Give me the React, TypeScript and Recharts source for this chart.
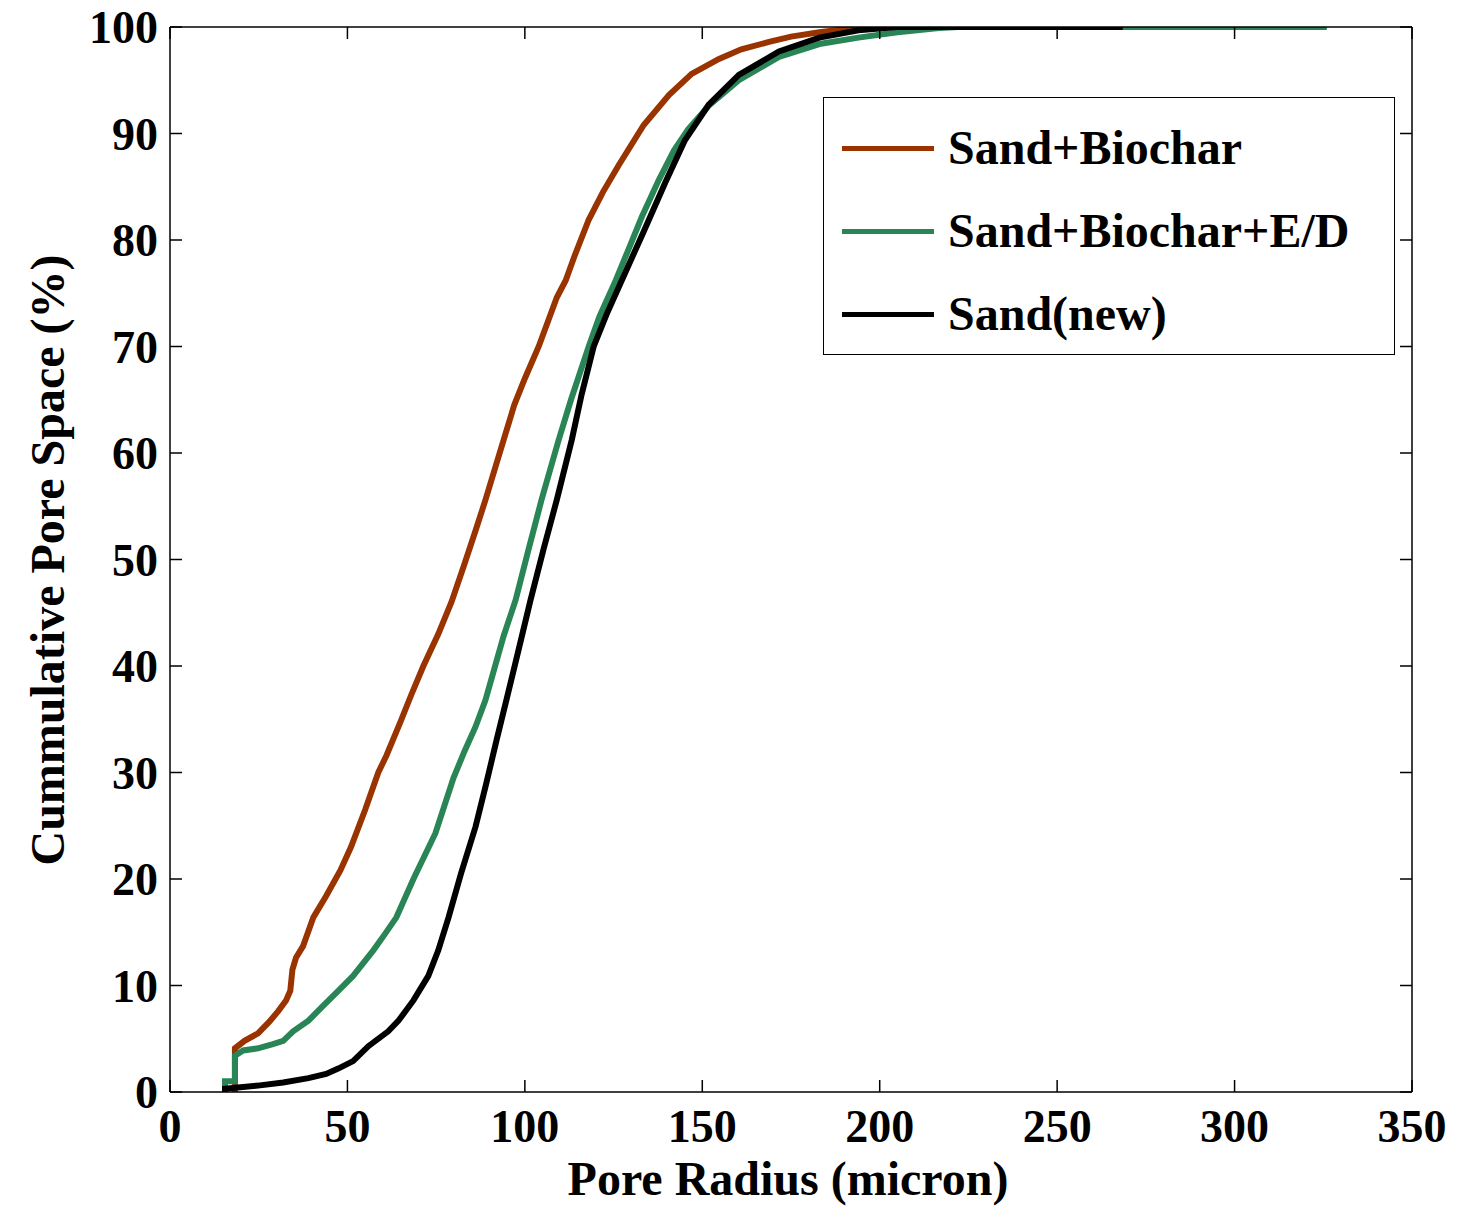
import React from 'react';
import { LineChart, Line, XAxis, YAxis } from 'recharts';

const xTicks = [0, 50, 100, 150, 200, 250, 300, 350];
const yTicks = [0, 10, 20, 30, 40, 50, 60, 70, 80, 90, 100];

// Sand+Biochar
const biocharRadius = [18.3, 18.3, 21, 24.8, 28, 30.5, 32.7, 33.9, 34.5, 35.5, 37.5, 40.4, 44, 48, 51, 55, 58.7, 61, 65, 68, 71.4, 75.6, 79.3, 82.7, 86, 88.9, 94, 97, 100, 103.9, 109, 111.5, 114, 118, 122, 126.4, 133.5, 140.6, 147, 154.7, 161, 168.8, 175, 183, 190, 195];
const biocharCum = [0, 4.1, 4.8, 5.5, 6.6, 7.6, 8.6, 9.5, 11.5, 12.6, 13.7, 16.4, 18.4, 20.8, 23, 26.5, 30, 31.6, 34.8, 37.3, 40, 43, 46, 49.3, 52.6, 55.6, 61.2, 64.5, 67, 70, 74.6, 76.2, 78.5, 81.9, 84.5, 87, 90.8, 93.6, 95.6, 97, 97.9, 98.6, 99.1, 99.5, 99.8, 100];

// Sand+Biochar+E/D
const edRadius = [15.5, 15.5, 18.3, 18.3, 20.6, 24.8, 29, 31.9, 34.7, 39, 43.2, 47.4, 51.6, 57.3, 60.5, 63.8, 68.6, 74.8, 79.9, 83, 86.1, 88.9, 94, 97.4, 101, 104.7, 109.5, 113, 118, 121, 125.6, 129.3, 133, 137.7, 142, 146, 151.8, 160.3, 171.6, 183, 194, 205, 216.7, 222, 326];
const edCum = [0, 1, 1, 3.4, 3.9, 4.1, 4.5, 4.8, 5.7, 6.7, 8.1, 9.5, 10.9, 13.3, 14.8, 16.4, 20, 24.3, 29.5, 32, 34.3, 36.8, 42.8, 46.2, 50.9, 55.6, 61.2, 65, 70, 72.8, 76.2, 79.2, 82.2, 85.6, 88.4, 90.4, 92.6, 95, 97.2, 98.4, 99, 99.5, 99.9, 100, 100];

// Sand(new)
const sandRadius = [15.5, 15.5, 24.8, 31.9, 39, 44, 47.4, 51.6, 55.9, 61.5, 64.4, 68.6, 72.8, 75.6, 78.5, 82, 86.1, 89, 92, 94.8, 98, 101.6, 105.3, 109, 113.2, 116, 119.4, 123, 127.3, 133.5, 139.7, 145, 151.8, 160.3, 171.6, 183, 194, 205, 268.5];
const sandCum = [0, 0.3, 0.6, 0.9, 1.3, 1.7, 2.2, 2.9, 4.3, 5.7, 6.7, 8.6, 10.9, 13.3, 16.4, 20.5, 24.9, 28.8, 33, 36.8, 41.2, 46.2, 51, 55.6, 61.2, 65.5, 70, 73, 76.2, 80.8, 85.5, 89.3, 92.7, 95.5, 97.7, 99, 99.7, 100, 100];

const seriesNames = ['Sand+Biochar', 'Sand+Biochar+E/D', 'Sand(new)'];
const seriesColors = ['#993300', '#2a8556', '#000000'];

const zip = (xs: number[], ys: number[]) => xs.map((x, i) => ({ x, y: ys[i] }));

const series = [
  zip(biocharRadius, biocharCum),
  zip(edRadius, edCum),
  zip(sandRadius, sandCum),
];

const FONT = '"Liberation Serif", "Times New Roman", serif';
const TICK_LEN = 12;
const X_MARGIN = 16;
const Y_MARGIN = 12;

const textStyle = { fontFamily: FONT, fontWeight: 'bold' as const, fontSize: 46 };

// inward tick + label, MATLAB style
const BottomTick = (props: any) => {
  const { x, y, payload } = props;
  const axisY = y - X_MARGIN;
  return (
    <g>
      <line x1={x} y1={axisY} x2={x} y2={axisY - TICK_LEN} stroke="#000" strokeWidth={1.5} />
      <text x={x} y={y} dy={34} textAnchor="middle" style={textStyle} fill="#000">{payload.value}</text>
    </g>
  );
};

const LeftTick = (props: any) => {
  const { x, y, payload } = props;
  const axisX = x + Y_MARGIN;
  return (
    <g>
      <line x1={axisX} y1={y} x2={axisX + TICK_LEN} y2={y} stroke="#000" strokeWidth={1.5} />
      <text x={x} y={y} dy={16} textAnchor="end" style={textStyle} fill="#000">{payload.value}</text>
    </g>
  );
};

const TopTick = (props: any) => {
  const { x, y } = props;
  return <line x1={x} y1={y} x2={x} y2={y + TICK_LEN} stroke="#000" strokeWidth={1.5} />;
};

const RightTick = (props: any) => {
  const { x, y } = props;
  return <line x1={x} y1={y} x2={x - TICK_LEN} y2={y} stroke="#000" strokeWidth={1.5} />;
};

const LegendBox = () => (
  <div
    style={{
      position: 'absolute',
      left: 823,
      top: 97,
      width: 572,
      height: 258,
      border: '1.5px solid #000',
      background: '#fff',
      boxSizing: 'border-box',
      fontFamily: FONT,
      fontWeight: 'bold',
      fontSize: 48,
    }}
  >
    {seriesNames.map((name, i) => (
      <div
        key={name}
        style={{ position: 'absolute', left: 18, top: 20 + i * 83, height: 60, display: 'flex', alignItems: 'center' }}
      >
        <div style={{ width: 92, height: 5, background: seriesColors[i], marginRight: 14 }} />
        <span style={{ lineHeight: '60px', whiteSpace: 'nowrap' }}>{name}</span>
      </div>
    ))}
  </div>
);

export default function App() {
  return (
    <div style={{ position: 'absolute', left: 0, top: 0, width: 1457, height: 1207, background: '#fff' }}>
      <LineChart width={1457} height={1207} margin={{ top: 26, right: 44, bottom: 0, left: 0 }}>
        <XAxis
          xAxisId="bottom"
          dataKey="x"
          type="number"
          domain={[0, 350]}
          ticks={xTicks}
          allowDataOverflow
          height={115}
          tickSize={0}
          tickLine={false}
          tickMargin={X_MARGIN}
          tick={BottomTick}
          stroke="#000"
          strokeWidth={1.5}
          label={() => (
            <text x={788} y={1195} textAnchor="middle" style={{ fontFamily: FONT, fontWeight: 'bold', fontSize: 48 }} fill="#000">
              Pore Radius (micron)
            </text>
          )}
        />
        <XAxis
          xAxisId="top"
          dataKey="x"
          type="number"
          orientation="top"
          domain={[0, 350]}
          ticks={xTicks}
          allowDataOverflow
          height={1}
          tickSize={0}
          tickLine={false}
          tickMargin={0}
          tick={TopTick}
          stroke="#000"
          strokeWidth={1.5}
        />
        <YAxis
          yAxisId="left"
          type="number"
          domain={[0, 100]}
          ticks={yTicks}
          allowDataOverflow
          width={170}
          tickSize={0}
          tickLine={false}
          tickMargin={Y_MARGIN}
          tick={LeftTick}
          stroke="#000"
          strokeWidth={1.5}
          label={() => (
            <text
              x={47}
              y={560}
              transform="rotate(-90 47 560)"
              textAnchor="middle"
              dominantBaseline="central"
              style={{ fontFamily: FONT, fontWeight: 'bold', fontSize: 48 }}
              fill="#000"
            >
              Cummulative Pore Space (%)
            </text>
          )}
        />
        <YAxis
          yAxisId="right"
          type="number"
          orientation="right"
          domain={[0, 100]}
          ticks={yTicks}
          allowDataOverflow
          width={1}
          tickSize={0}
          tickLine={false}
          tickMargin={0}
          tick={RightTick}
          stroke="#000"
          strokeWidth={1.5}
        />
        {series.map((data, i) => (
          <Line
            key={seriesNames[i]}
            xAxisId="bottom"
            yAxisId="left"
            data={data}
            dataKey="y"
            name={seriesNames[i]}
            type="linear"
            stroke={seriesColors[i]}
            strokeWidth={6}
            dot={false}
            isAnimationActive={false}
          />
        ))}
      </LineChart>
      <LegendBox />
    </div>
  );
}
